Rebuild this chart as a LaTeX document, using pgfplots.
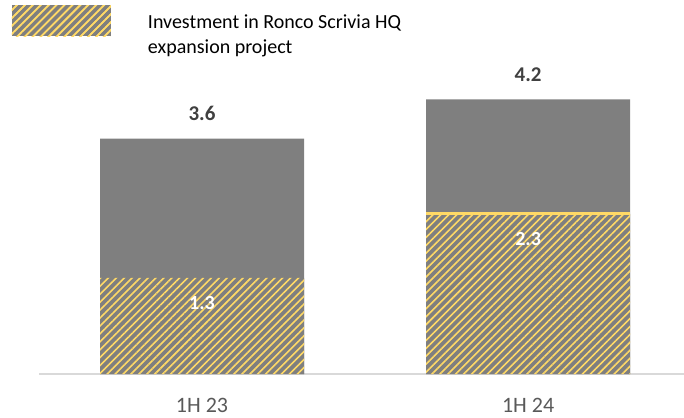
\documentclass[border=0pt]{standalone}
\usepackage{fontspec}
\setmainfont{Carlito}
\usepackage{pgfplots}
\pgfplotsset{compat=1.18}
\usetikzlibrary{patterns.meta}
\definecolor{barGray}{HTML}{7F7F7F}
\definecolor{hatchY}{HTML}{FFD966}
\definecolor{tickGray}{HTML}{595959}
\definecolor{lblDark}{HTML}{404040}
\definecolor{axGray}{HTML}{D9D9D9}
\tikzset{hatchfill/.style={fill=barGray, postaction={pattern={Lines[angle=45,distance=5.6bp,line width=1.6bp]}, pattern color=hatchY}}}
\begin{document}
\begin{tikzpicture}
\begin{axis}[
  scale only axis, width=645bp, height=374bp,
  xmin=-0.5, xmax=1.478, ymin=0, ymax=5.72,
  ybar,
  axis y line=none,
  axis x line*=bottom,
  x axis line style={-, draw=axGray, line width=1.5bp},
  xtick={0,1}, xticklabels={1H 23,1H 24},
  major tick length=0pt,
  xticklabel style={font=\fontsize{22bp}{26bp}\selectfont, text=tickGray, inner sep=0pt, yshift=-24bp},
  ytick=\empty,
  clip=false,
  legend style={at={(axis description cs:-0.0419,0.9866)}, anchor=north west,
    draw=none, fill=none, inner sep=0pt, outer sep=0pt,
    nodes={inner sep=0pt}, column sep=37bp,
    cells={align=left, anchor=west},
    font=\fontsize{20bp}{25bp}\selectfont},
]
\addplot[bar width=204bp, bar shift=0pt, fill=barGray, draw=none, forget plot,
  point meta=explicit symbolic, nodes near coords,
  every node near coord/.append style={font=\bfseries\fontsize{21bp}{21bp}\selectfont, text=lblDark, anchor=south, inner sep=0pt, yshift=18bp}]
  coordinates {(0,3.6)[3.6] (1,4.2)[4.2]};
\addplot[bar width=204bp, bar shift=0pt, hatchfill, draw=none,
  legend image code/.code={\path[hatchfill] (0bp,-1bp) rectangle (99bp,30bp);},
  point meta=explicit symbolic, nodes near coords,
  every node near coord/.append style={font=\bfseries\fontsize{20bp}{20bp}\selectfont, text=white, anchor=north, inner sep=0pt, yshift=-18bp}]
  coordinates {(0,1.47)[1.3] (1,2.45)[2.3]};
\addlegendentry{Investment in Ronco Scrivia HQ\\expansion project}
\addplot[sharp plot, no markers, draw=hatchY, line width=3bp, forget plot]
  coordinates {(0.687,2.45) (1.312,2.45)};
\end{axis}
\pgfresetboundingbox
\path (-39bp,-44bp) rectangle (645bp,374bp);
\end{tikzpicture}
\end{document}
